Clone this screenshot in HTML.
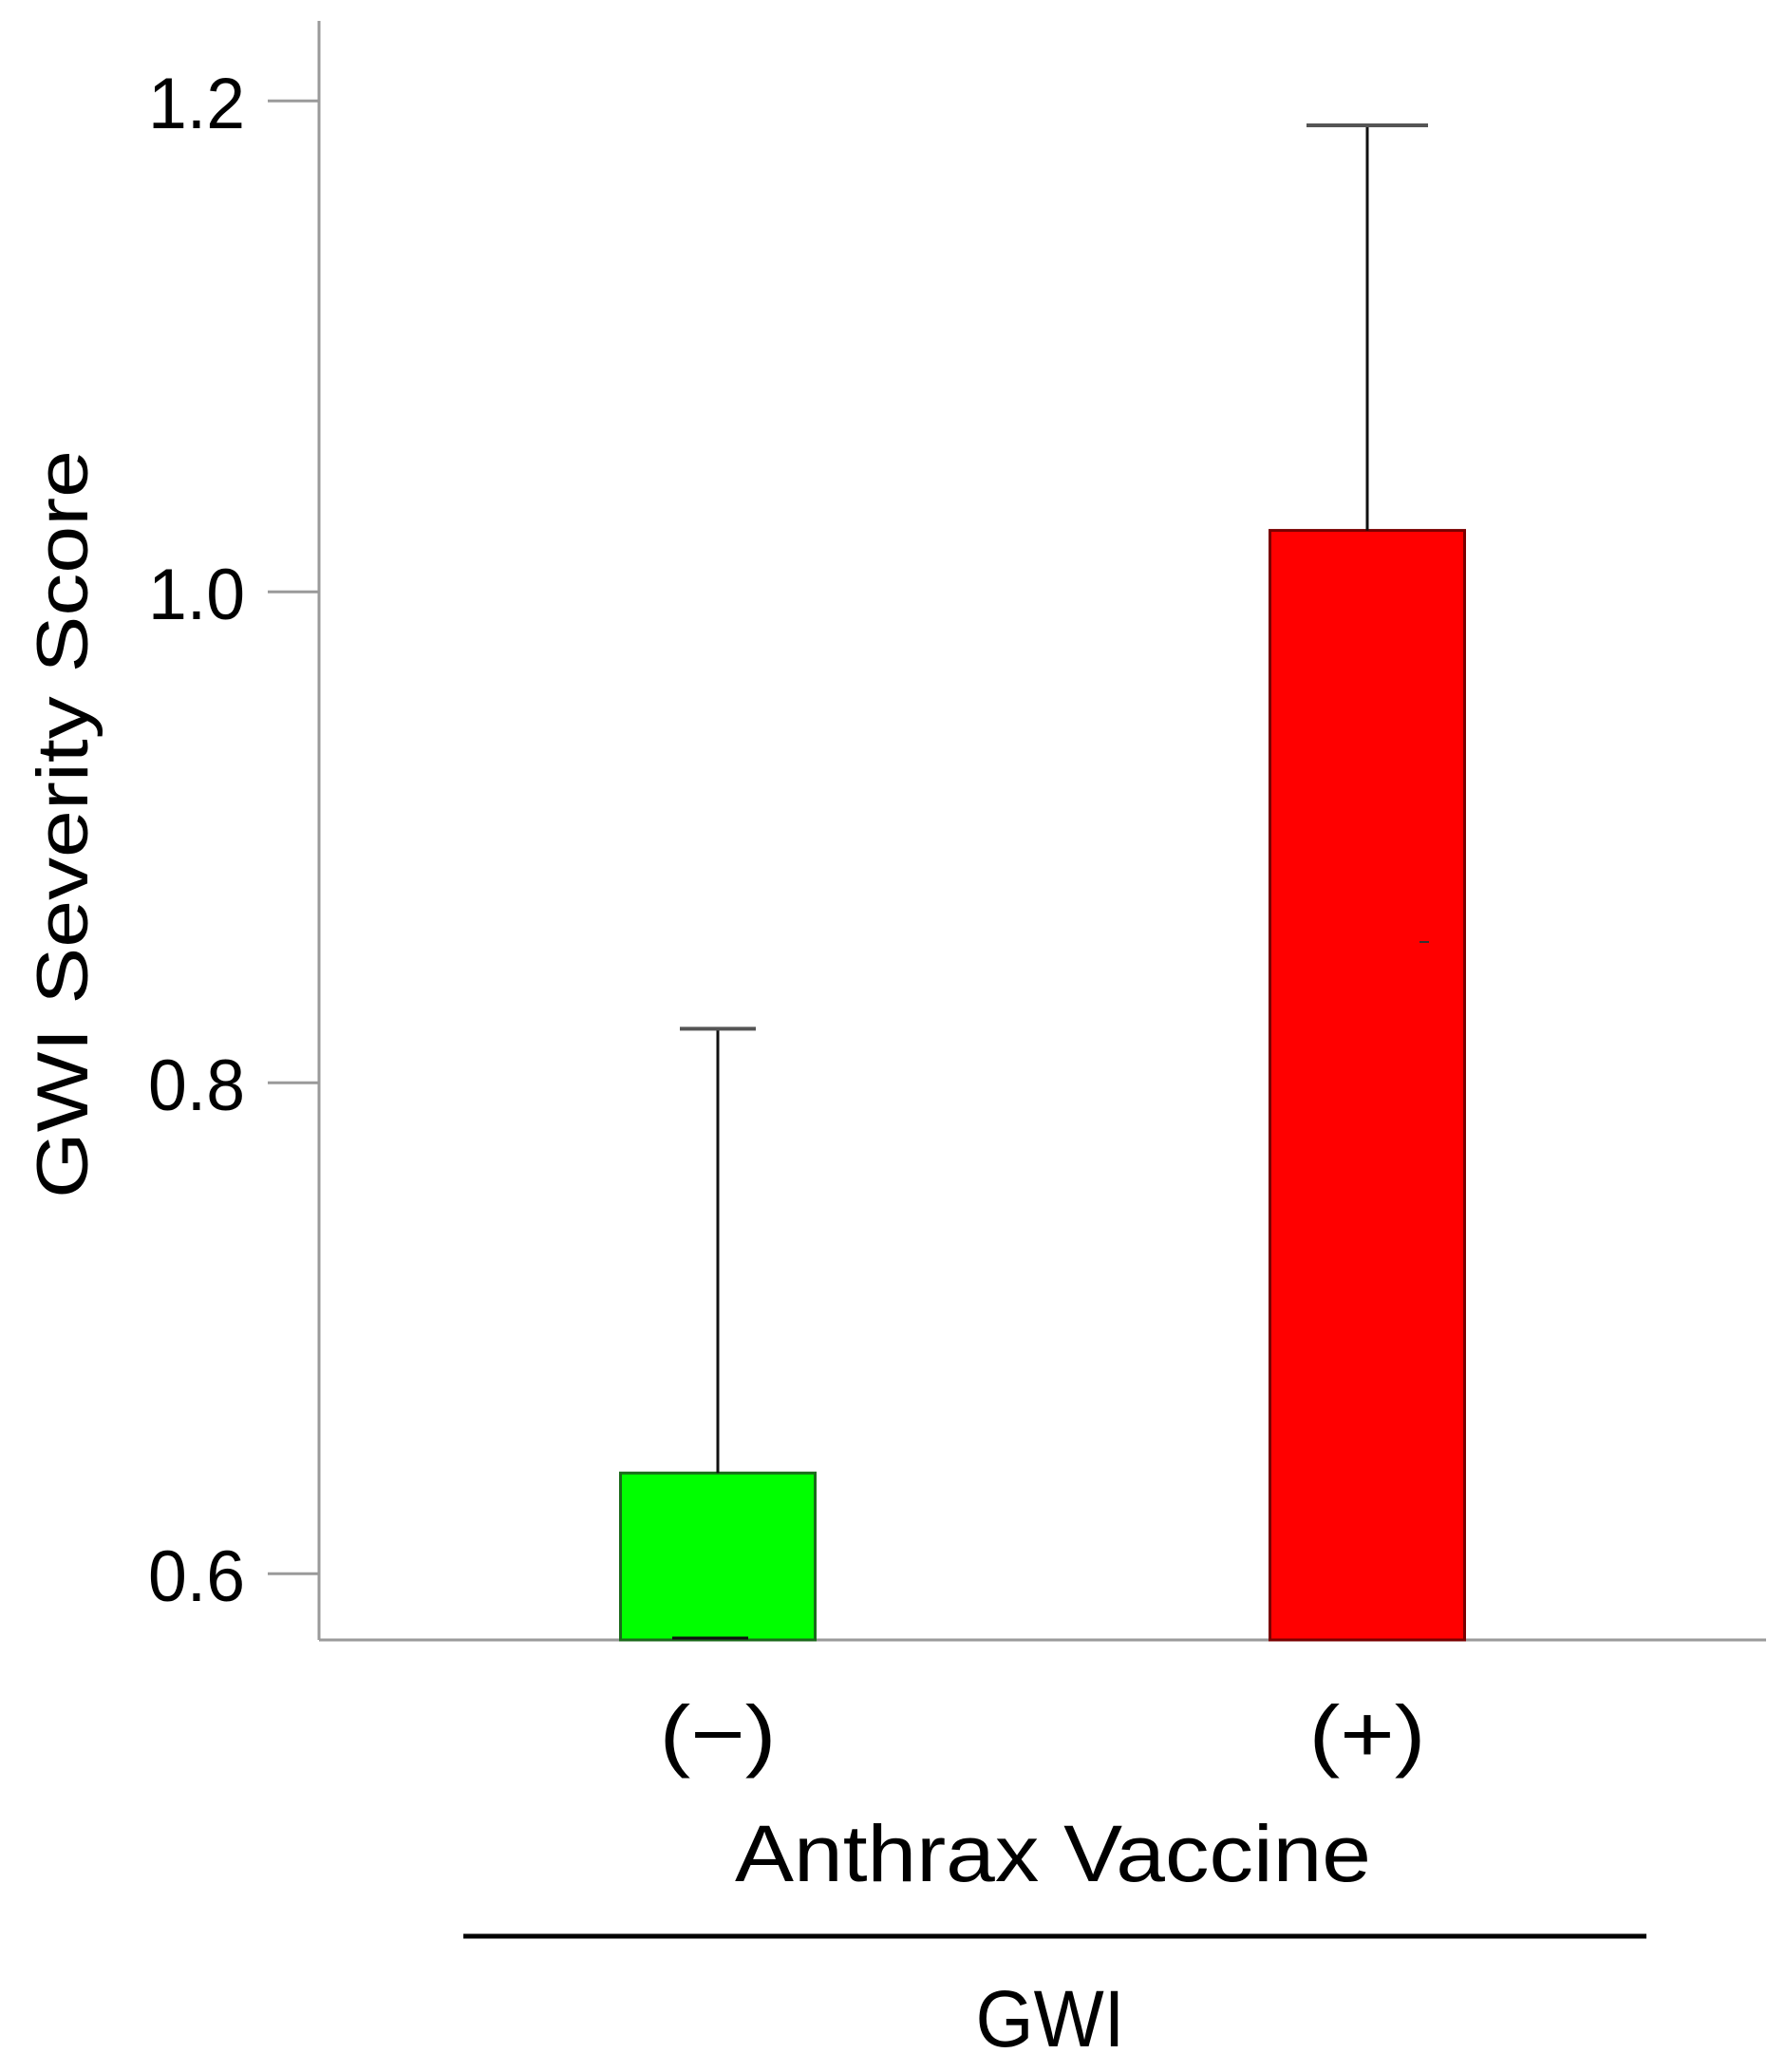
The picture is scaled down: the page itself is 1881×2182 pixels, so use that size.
<!DOCTYPE html>
<html><head><meta charset="utf-8"><style>
html,body{margin:0;padding:0;background:#fff;width:1881px;height:2182px;overflow:hidden}
svg text{font-family:"Liberation Sans",sans-serif;fill:#000}
</style></head><body>
<svg id="chart" width="1881" height="2182" xmlns="http://www.w3.org/2000/svg">
<g id="axes"></g>
<g id="bars"></g>
<g id="labels"></g>
</svg>
<script>
const categories = ["(\u2212)", "(+)"];
const means = [0.641, 1.025];
const upperErr = [0.822, 1.190];
const yTicks = [0.6, 0.8, 1.0, 1.2];
const yTickLabels = ["0.6", "0.8", "1.0", "1.2"];
const colors = ["#00ff00", "#ff0000"];

const NS = "http://www.w3.org/2000/svg";
const yMin = 0.573, plotBottom = 1727, pxPerUnit = 2585;
function yScale(v){ return plotBottom - (v - yMin) * pxPerUnit; }
const axisX = 336, xRight = 1860;
const barCenters0 = 756, barStep = 684, barW = 205;
function xScale(i){ return barCenters0 + i * barStep; }
function mk(tag, attrs, parent){ const e = document.createElementNS(NS, tag); for (const k in attrs) e.setAttribute(k, attrs[k]); parent.appendChild(e); return e; }

const axes = document.getElementById('axes');
const bars = document.getElementById('bars');
const labels = document.getElementById('labels');

let yAxis = mk('line', {x1: axisX, y1: 22, x2: axisX, y2: plotBottom, stroke: '#9a9a9a', 'stroke-width': 3}, axes);


let xAxis = mk('line', {x1: axisX, y1: plotBottom, x2: xRight, y2: plotBottom, stroke: '#9a9a9a', 'stroke-width': 3}, axes);



yTicks.forEach((t, i) => {
  const y = yScale(t);
  const tk = mk('line', {x1: axisX - 54, y1: y, x2: axisX, y2: y, stroke: '#9a9a9a', 'stroke-width': 3}, axes);
  
  
  const tl = mk('text', {x: 258, y: y + 29, 'text-anchor': 'end', 'font-size': 76, textLength: 102, lengthAdjust: 'spacingAndGlyphs'}, labels);
  tl.textContent = yTickLabels[i];
  
  
});

categories.forEach((c, i) => {
  const cx = xScale(i);
  const top = yScale(means[i]);
  const r = mk('rect', {x: cx - barW/2, y: top, width: barW, height: plotBottom - top, fill: colors[i], stroke: i === 0 ? '#1a6a1a' : '#7a0000', 'stroke-width': 3}, bars);
  
  
  const ey = yScale(upperErr[i]);
  const el = mk('line', {x1: cx, y1: top, x2: cx, y2: ey, stroke: '#111', 'stroke-width': 3}, bars);
  
  
  const capW = i === 0 ? 80 : 128;
  const cap = mk('line', {x1: cx - capW/2, y1: ey, x2: cx + capW/2, y2: ey, stroke: '#555', 'stroke-width': 4}, bars);
  
  
  const lbl = mk('text', {x: cx, y: 1855, 'text-anchor': 'middle', 'font-size': 84, textLength: 123, lengthAdjust: 'spacingAndGlyphs'}, labels);
  lbl.textContent = c;
  
  
});
</script>
<svg style="position:absolute;left:0;top:0" width="1881" height="2182" xmlns="http://www.w3.org/2000/svg">
<line x1="1495" y1="992" x2="1505" y2="992" stroke="#333" stroke-width="2"/>
<line x1="708" y1="1725" x2="788" y2="1725" stroke="#111" stroke-width="3"/>
<text x="1109" y="1981" text-anchor="middle" font-size="84" textLength="670" lengthAdjust="spacingAndGlyphs" style="font-family:'Liberation Sans',sans-serif">Anthrax Vaccine</text>
<line x1="488" y1="2039" x2="1734" y2="2039" stroke="#000" stroke-width="5"/>
<text x="1106" y="2155" text-anchor="middle" font-size="84" textLength="157" lengthAdjust="spacingAndGlyphs" style="font-family:'Liberation Sans',sans-serif">GWI</text>
<text transform="translate(92,868) rotate(-90)" text-anchor="middle" font-size="76" textLength="788" lengthAdjust="spacingAndGlyphs" style="font-family:'Liberation Sans',sans-serif">GWI Severity Score</text>
</svg>
</body></html>
